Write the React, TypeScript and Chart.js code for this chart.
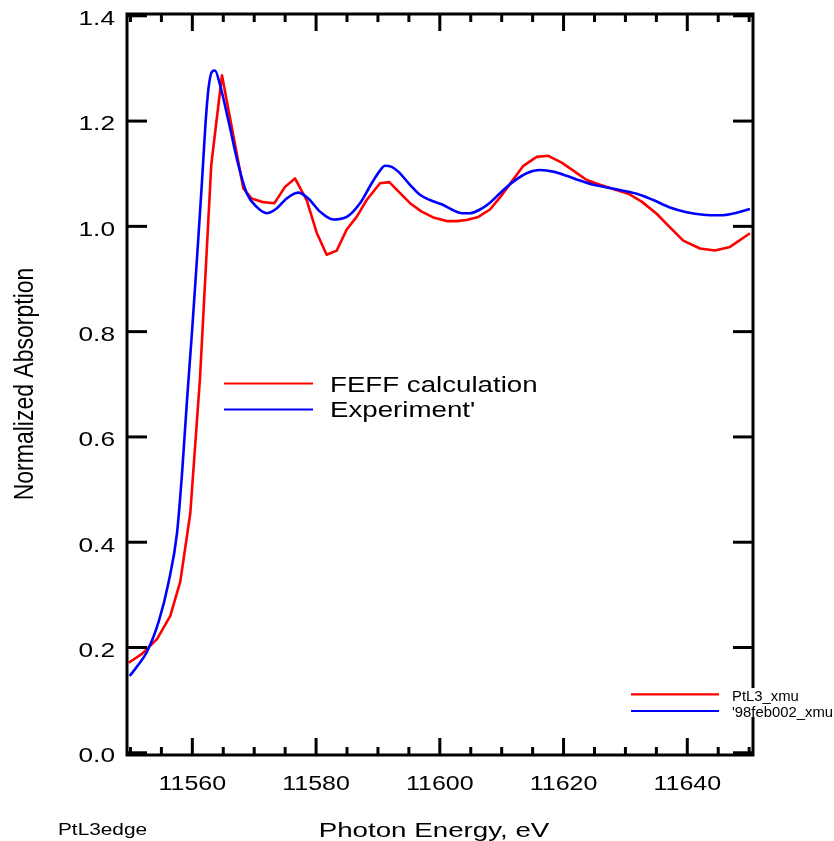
import { useEffect, useRef } from "react";
import { Chart, registerables } from "chart.js";

Chart.register(...registerables);

// ---- data ----
const feffEnergy = [
  11549.71, 11551.86, 11554.29, 11556.44, 11558.05, 11559.67, 11561.24, 11563.06,
  11564.79, 11568.24, 11569.59, 11571.47, 11573.25, 11574.98, 11576.59, 11578.48,
  11580.1, 11581.71, 11583.33, 11584.95, 11586.56, 11588.18, 11590.33, 11591.83,
  11595.18, 11597.07, 11598.94, 11601.11, 11602.73, 11604.34, 11606.22, 11608.11,
  11609.73, 11611.62, 11613.5, 11615.66, 11617.53, 11619.7, 11621.57, 11623.74,
  11625.89, 11628.04, 11630.46, 11632.63, 11635.05, 11637.2, 11639.35, 11642.05,
  11644.47, 11646.9, 11650.13,
];
const feffMu = [
  0.171, 0.188, 0.216, 0.26, 0.325, 0.455, 0.712, 1.117,
  1.287, 1.072, 1.053, 1.046, 1.044, 1.075, 1.091, 1.05,
  0.988, 0.946, 0.954, 0.994, 1.018, 1.05, 1.082, 1.084,
  1.044, 1.028, 1.017, 1.01, 1.01, 1.012, 1.018, 1.032,
  1.055, 1.085, 1.115, 1.132, 1.134, 1.121, 1.106, 1.088,
  1.079, 1.071, 1.062, 1.047, 1.024, 0.998, 0.973, 0.958,
  0.954, 0.961, 0.987,
];

const expEnergy = [
  11549.88, 11551.06, 11552.67, 11554.56, 11556.18, 11557.52, 11558.33, 11559.14,
  11559.95, 11560.76, 11561.56, 11562.1, 11562.61, 11563.18, 11563.66, 11564.47,
  11565.81, 11567.43, 11568.79, 11570.4, 11572.11, 11573.63, 11575.25, 11577.12,
  11578.74, 11580.63, 11582.78, 11584.95, 11587.1, 11588.99, 11590.33, 11591.14,
  11592.22, 11593.29, 11595.18, 11596.79, 11598.41, 11600.3, 11601.92, 11603.53,
  11604.88, 11606.49, 11608.11, 11609.73, 11611.88, 11614.04, 11616.19, 11618.34,
  11620.51, 11622.66, 11624.81, 11626.97, 11629.12, 11631.82, 11634.5, 11637.2,
  11639.9, 11642.58, 11645.28, 11647.98, 11650.13,
];
const expMu = [
  0.146, 0.164, 0.192, 0.249, 0.325, 0.417, 0.53, 0.67,
  0.8, 0.94, 1.085, 1.19, 1.262, 1.294, 1.296, 1.269,
  1.202, 1.117, 1.063, 1.037, 1.025, 1.034, 1.053, 1.064,
  1.053, 1.028, 1.013, 1.018, 1.044, 1.082, 1.106, 1.115,
  1.113, 1.104, 1.079, 1.06, 1.05, 1.042, 1.032, 1.025,
  1.025, 1.032, 1.045, 1.063, 1.085, 1.101, 1.107, 1.104,
  1.096, 1.087, 1.079, 1.074, 1.069, 1.062, 1.05, 1.036,
  1.027, 1.022, 1.021, 1.026, 1.033,
];

const xMajorTicks = [11560, 11580, 11600, 11620, 11640];
const xTickLabels = ["11560", "11580", "11600", "11620", "11640"];
const xMinorTicks = [
  11550, 11555, 11565, 11570, 11575, 11585, 11590, 11595, 11605, 11610,
  11615, 11625, 11630, 11635, 11645, 11650,
];
const yTicks = [0.0, 0.2, 0.4, 0.6, 0.8, 1.0, 1.2, 1.4];
const yTickLabels = ["0.0", "0.2", "0.4", "0.6", "0.8", "1.0", "1.2", "1.4"];

const seriesNames = ["FEFF calculation", "Experiment'"];
const fileNames = ["PtL3_xmu", "'98feb002_xmu"];
const xTitle = "Photon Energy, eV";
const yTitle = "Normalized Absorption";
const footnote = "PtL3edge";

const FONT = "'Liberation Sans', Arial, sans-serif";

function drawText(
  ctx: CanvasRenderingContext2D,
  text: string,
  x: number,
  y: number,
  size: number,
  sx: number,
  align: CanvasTextAlign
) {
  ctx.save();
  ctx.font = `${size}px ${FONT}`;
  ctx.textAlign = align;
  ctx.textBaseline = "alphabetic";
  ctx.fillStyle = "#000";
  ctx.translate(x, y);
  ctx.scale(sx, 1);
  ctx.fillText(text, 0, 0);
  ctx.restore();
}

const framePlugin = {
  id: "frameDecor",
  afterDraw(chart: any) {
    const { ctx, chartArea: a, scales } = chart;
    const xs = scales.x;
    const ys = scales.y;
    ctx.save();
    ctx.strokeStyle = "#000";
    ctx.lineWidth = 3;
    ctx.lineCap = "butt";
    const seg = (x1: number, y1: number, x2: number, y2: number) => {
      ctx.beginPath();
      ctx.moveTo(x1, y1);
      ctx.lineTo(x2, y2);
      ctx.stroke();
    };
    ctx.strokeRect(a.left, a.top, a.right - a.left, a.bottom - a.top);
    for (const v of xMinorTicks) {
      const px = xs.getPixelForValue(v);
      seg(px, a.bottom, px, a.bottom - 8);
      seg(px, a.top, px, a.top + 8);
    }
    for (const v of xMajorTicks) {
      const px = xs.getPixelForValue(v);
      seg(px, a.bottom, px, a.bottom - 17);
      seg(px, a.top, px, a.top + 17);
    }
    for (const v of yTicks) {
      const py = ys.getPixelForValue(v);
      seg(a.left, py, a.left + 20, py);
      seg(a.right, py, a.right - 20, py);
    }
    ctx.restore();

    // tick labels
    xMajorTicks.forEach((v, i) => {
      drawText(ctx, xTickLabels[i], xs.getPixelForValue(v), 790, 20.5, 1.22, "center");
    });
    yTicks.forEach((v, i) => {
      drawText(ctx, yTickLabels[i], a.left - 12, ys.getPixelForValue(v) + 9.3, 20.5, 1.28, "right");
    });

    // titles
    drawText(ctx, xTitle, 434, 836.5, 21, 1.32, "center");
    drawText(ctx, footnote, 58, 835, 16, 1.3, "left");

    ctx.save();
    ctx.font = `23px ${FONT}`;
    ctx.textAlign = "center";
    ctx.textBaseline = "alphabetic";
    ctx.fillStyle = "#000";
    ctx.translate(33, 384);
    ctx.scale(1.2, 1);
    ctx.rotate(-Math.PI / 2);
    ctx.fillText(yTitle, 0, 0);
    ctx.restore();

    // legends
    const colors = chart.data.datasets.map((d: any) => d.borderColor);
    const byName = (n: string) =>
      colors[chart.data.datasets.findIndex((d: any) => d.label === n)];
    ctx.save();
    ctx.lineWidth = 2.2;
    seriesNames.forEach((n, i) => {
      const yy = 383.5 + i * 26;
      ctx.strokeStyle = byName(n);
      ctx.beginPath();
      ctx.moveTo(224, yy);
      ctx.lineTo(313, yy);
      ctx.stroke();
      drawText(ctx, n, 330, 391.7 + i * 25.5, 22.5, 1.23, "left");
    });
    ctx.fillStyle = "#fff";
    ctx.fillRect(727, 688, 834 - 727, 29);
    fileNames.forEach((n, i) => {
      const yy = 694.3 + i * 16.7;
      ctx.strokeStyle = byName(seriesNames[i]);
      ctx.beginPath();
      ctx.moveTo(631, yy);
      ctx.lineTo(719, yy);
      ctx.stroke();
      drawText(ctx, n, 732, 701 + i * 15.7, 14, 1.06, "left");
    });
    ctx.restore();
  },
};

export default function App() {
  const ref = useRef<HTMLCanvasElement | null>(null);
  useEffect(() => {
    document.body.style.margin = "0";
    const canvas = ref.current;
    if (!canvas) return;
    const chart = new Chart(canvas, {
      type: "line",
      data: {
        datasets: [
          {
            label: seriesNames[0],
            data: feffEnergy.map((e, i) => ({ x: e, y: feffMu[i] })),
            borderColor: "#ff0000",
            borderWidth: 2.6,
            borderJoinStyle: "round",
            tension: 0,
            pointRadius: 0,
            fill: false,
            order: 2,
          },
          {
            label: seriesNames[1],
            data: expEnergy.map((e, i) => ({ x: e, y: expMu[i] })),
            borderColor: "#0000ff",
            borderWidth: 2.6,
            borderJoinStyle: "round",
            cubicInterpolationMode: "monotone",
            pointRadius: 0,
            fill: false,
            order: 1,
          },
        ],
      },
      options: {
        responsive: false,
        animation: false,
        devicePixelRatio: 1,
        layout: { padding: { left: 127, top: 14, right: 81, bottom: 86 } },
        plugins: { legend: { display: false }, tooltip: { enabled: false } },
        events: [],
        scales: {
          x: { type: "linear", min: 11549.44, max: 11650.62, display: false },
          y: { type: "linear", min: -0.0042, max: 1.4034, display: false },
        },
      },
      plugins: [framePlugin],
    });
    return () => chart.destroy();
  }, []);
  return (
    <canvas
      ref={ref}
      width={834}
      height={841}
      style={{ position: "absolute", left: 0, top: 0, display: "block" }}
    />
  );
}
